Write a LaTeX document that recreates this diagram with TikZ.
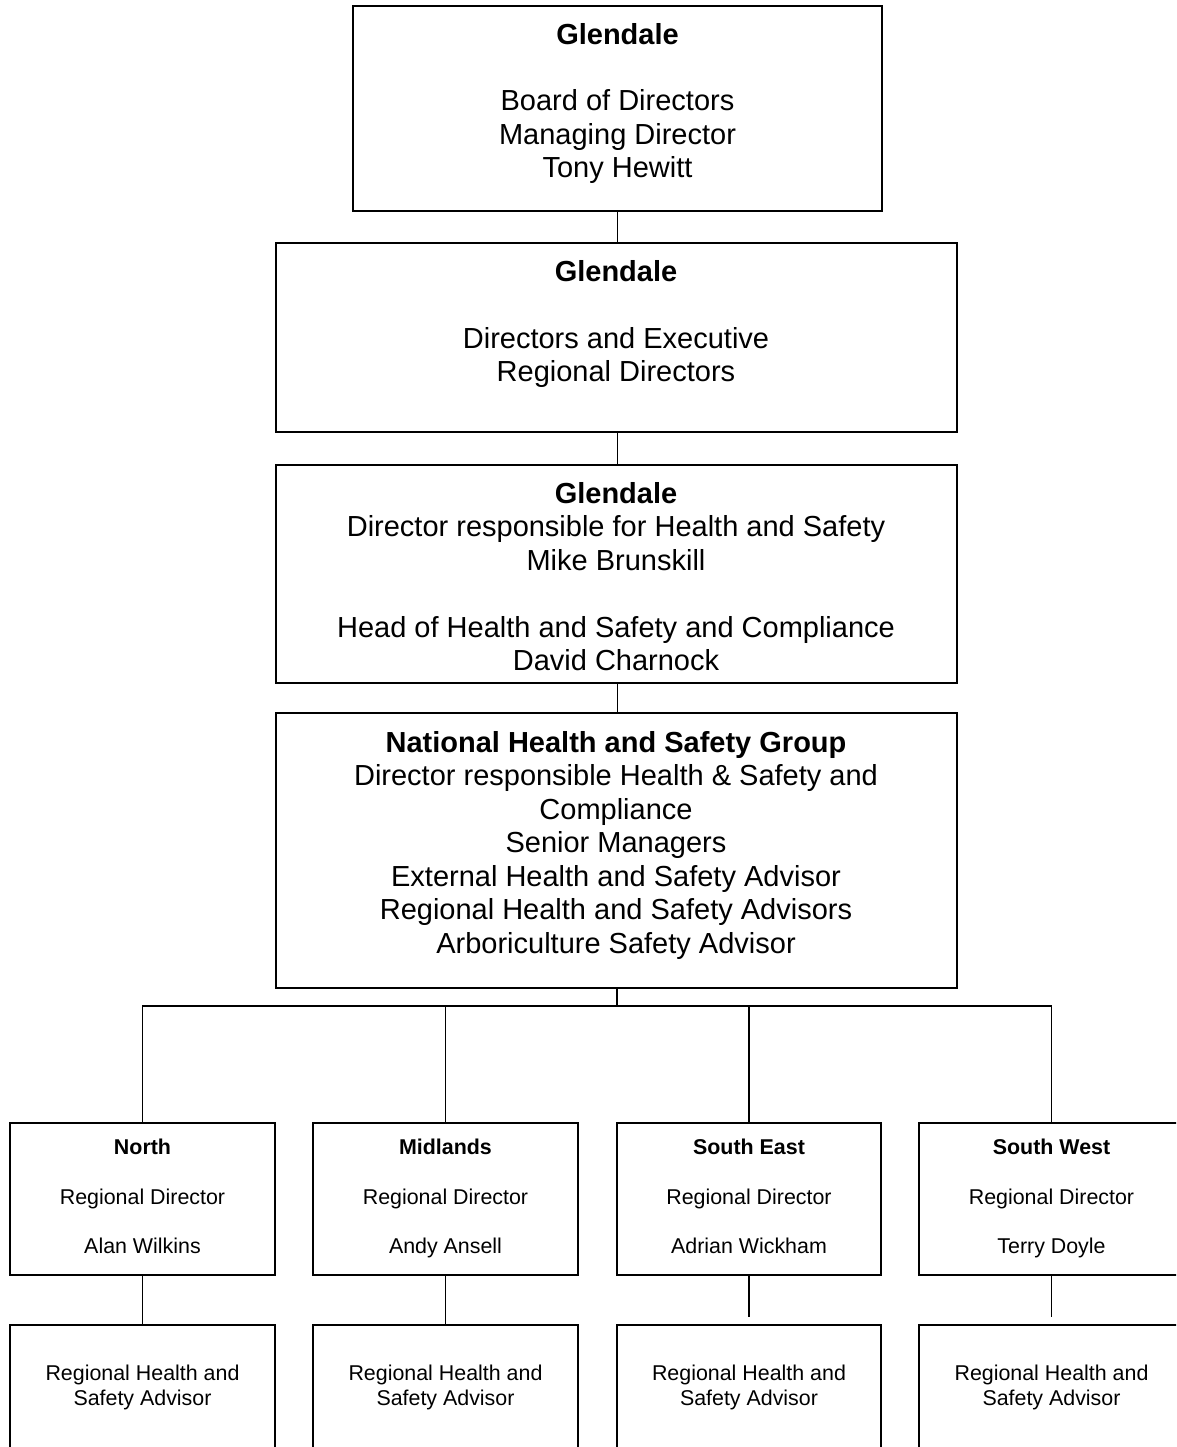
\documentclass[tikz,border=0pt]{standalone}
\usepackage{fontspec}
\setmainfont{Liberation Sans}
\newcommand{\bigtext}{\fontsize{29}{33.5}\selectfont}
\newcommand{\smalltext}{\fontsize{21.4}{24.75}\selectfont}

\begin{document}
\begin{tikzpicture}[x=1pt,y=-1pt,line width=1.6pt,
orgblock/.style={draw,rectangle,inner sep=0pt,outer sep=0pt,line width=2pt}]

\clip (0,0) rectangle (1176,1447);

\draw (617.5,108.5) node[orgblock] (board) {\begin{minipage}[c][205pt][t]{529pt}\centering\bigtext\vspace*{17pt}\textbf{Glendale}\\[33pt] Board of Directors\\ Managing Director\\ Tony Hewitt\end{minipage}};

\draw (616,337.5) node[orgblock] (exec) {\begin{minipage}[c][189pt][t]{681pt}\centering\bigtext\vspace*{17pt}\textbf{Glendale}\\[33.5pt] Directors and Executive\\ Regional Directors\end{minipage}};

\draw (616,574) node[orgblock] (hs) {\begin{minipage}[c][218pt][t]{681pt}\centering\bigtext\vspace*{17pt}\textbf{Glendale}\\ Director responsible for Health and Safety\\ Mike Brunskill\\[33.5pt] Head of Health and Safety and Compliance\\ David Charnock\end{minipage}};

\draw (616,850.5) node[orgblock] (nhsg) {\begin{minipage}[c][275pt][t]{681pt}\centering\bigtext\vspace*{18pt}\textbf{National Health and Safety Group}\\ Director responsible Health \& Safety and\\ Compliance\\ Senior Managers\\ External Health and Safety Advisor\\ Regional Health and Safety Advisors\\ Arboriculture Safety Advisor\end{minipage}};

% regions
\draw (142.5,1199) node[orgblock] (north) {\begin{minipage}[c][152pt][t]{265pt}\centering\smalltext\vspace*{16pt}\textbf{North}\\[24.75pt] Regional Director\\[24.75pt] Alan Wilkins\end{minipage}};
\draw (445.5,1199) node[orgblock] (mid) {\begin{minipage}[c][152pt][t]{265pt}\centering\smalltext\vspace*{16pt}\textbf{Midlands}\\[24.75pt] Regional Director\\[24.75pt] Andy Ansell\end{minipage}};
\draw (749,1199) node[orgblock] (seast) {\begin{minipage}[c][152pt][t]{264pt}\centering\smalltext\vspace*{16pt}\textbf{South East}\\[24.75pt] Regional Director\\[24.75pt] Adrian Wickham\end{minipage}};
\draw (1051.5,1199) node[orgblock] (swest) {\begin{minipage}[c][152pt][t]{265pt}\centering\smalltext\vspace*{16pt}\textbf{South West}\\[24.75pt] Regional Director\\[24.75pt] Terry Doyle\end{minipage}};

% advisors
\draw (142.5,1405) node[orgblock] (advn) {\begin{minipage}[c][160pt][t]{265pt}\centering\smalltext\vspace*{40pt}Regional Health and\\ Safety Advisor\end{minipage}};
\draw (445.5,1405) node[orgblock] (advm) {\begin{minipage}[c][160pt][t]{265pt}\centering\smalltext\vspace*{40pt}Regional Health and\\ Safety Advisor\end{minipage}};
\draw (749,1405) node[orgblock] (advse) {\begin{minipage}[c][160pt][t]{264pt}\centering\smalltext\vspace*{40pt}Regional Health and\\ Safety Advisor\end{minipage}};
\draw (1051.5,1405) node[orgblock] (advsw) {\begin{minipage}[c][160pt][t]{265pt}\centering\smalltext\vspace*{40pt}Regional Health and\\ Safety Advisor\end{minipage}};

\draw (board.south) -- (board.south |- exec.north);
\draw (board.south |- exec.south) -- (board.south |- hs.north);
\draw (board.south |- hs.south) -- (board.south |- nhsg.north);

\coordinate (bus) at (617,1006);
\draw (bus |- nhsg.south) -- (bus);
\draw (north.north) -- (north.north |- bus) -- (swest.north |- bus) -- (swest.north);
\draw (mid.north) -- (mid.north |- bus);
\draw (seast.north) -- (seast.north |- bus);

\draw (north.south) -- (advn.north);
\draw (mid.south) -- (advm.north);
\draw[shorten >=8pt] (seast.south) -- (advse.north);
\draw[shorten >=8pt] (swest.south) -- (advsw.north);
\end{tikzpicture}
\end{document}
